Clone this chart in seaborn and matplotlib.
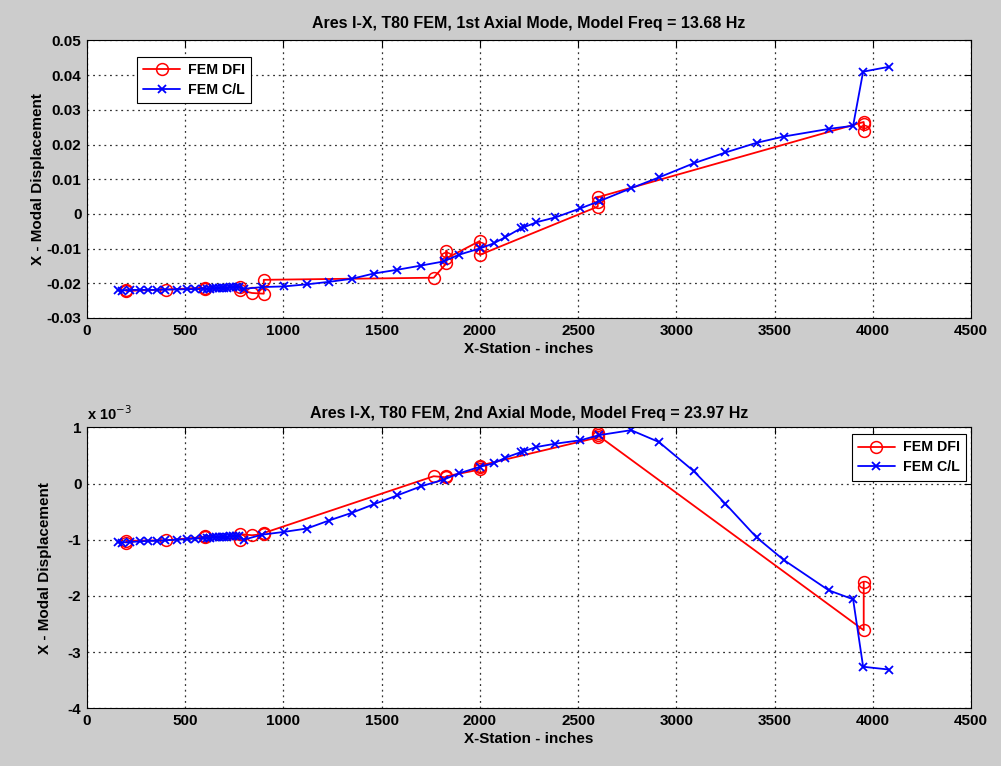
import numpy as np
import pandas as pd
import matplotlib
matplotlib.use("Agg")
import matplotlib.pyplot as plt
from matplotlib.ticker import FuncFormatter, MultipleLocator
import seaborn as sns

# ---------------- data ----------------
titles = ["Ares I-X, T80 FEM, 1st Axial Mode, Model Freq = 13.68 Hz",
          "Ares I-X, T80 FEM, 2nd Axial Mode, Model Freq = 23.97 Hz"]
series_names = ["FEM DFI", "FEM C/L"]
x_label = "X-Station - inches"
y_label = "X - Modal Displacement"

# FEM DFI stations (mode 1)
dfi_x = [200, 200, 400, 600, 600, 780, 780, 840, 900, 900, 1765, 1830, 1830, 1830,
         2000, 2000, 2000, 2600, 2600, 2600, 3954, 3954, 3954]
dfi_m1 = [-0.0218, -0.0222, -0.0218, -0.0213, -0.0217, -0.0210, -0.0220, -0.0228,
          -0.0230, -0.0190, -0.0184, -0.0142, -0.0106, -0.0128,
          -0.0078, -0.0098, -0.0118, 0.0021, 0.0035, 0.0048, 0.0265, 0.0240, 0.0258]
# FEM DFI stations (mode 2), values in units of 1e-3
dfi_x2 = [200, 200, 400, 600, 600, 780, 780, 840, 900, 900, 1765, 1830, 1830,
          2000, 2000, 2000, 2600, 2600, 2600, 3954, 3954, 3954]
dfi_m2_e3 = [-1.05, -1.02, -1.01, -0.95, -0.93, -1.00, -0.90, -0.92, -0.90, -0.88,
             0.13, 0.11, 0.13, 0.25, 0.30, 0.32, 0.82, 0.90, 0.86, -2.61, -1.84, -1.76]

# FEM C/L stations
cl_x = [160, 177, 219, 270, 312, 355, 397, 457, 508, 550, 593,
        610, 625, 640, 655, 670, 685, 700, 715, 730, 745, 760, 775,
        797, 891, 1004, 1120, 1230, 1349, 1459, 1580, 1700, 1816, 1892,
        2003, 2070, 2130, 2210, 2227, 2288, 2385, 2512, 2605, 2770, 2911,
        3089, 3250, 3409, 3547, 3776, 3900, 3951, 4082]
cl_m1 = [-0.0220, -0.0221, -0.0219, -0.0219, -0.0219, -0.0219, -0.0218, -0.0218,
         -0.0217, -0.0217, -0.0216,
         -0.0216, -0.0216, -0.0215, -0.0215, -0.0214, -0.0214, -0.0213, -0.0213,
         -0.0212, -0.0212, -0.0211, -0.0211,
         -0.0216, -0.0211, -0.0209, -0.0203, -0.0196, -0.0187, -0.0172, -0.0161,
         -0.0149, -0.0137, -0.0118,
         -0.0099, -0.0085, -0.0067, -0.0041, -0.0038, -0.0024, -0.0010, 0.0016,
         0.0036, 0.0074, 0.0105,
         0.0146, 0.0177, 0.0205, 0.0223, 0.0245, 0.0254, 0.0410, 0.0424]
cl_m2_e3 = [-1.04, -1.05, -1.04, -1.03, -1.02, -1.02, -1.01, -1.00, -0.99, -0.98, -0.97,
            -0.97, -0.97, -0.96, -0.96, -0.96, -0.95, -0.95, -0.95, -0.94, -0.94, -0.93, -0.93,
            -1.00, -0.91, -0.86, -0.80, -0.66, -0.52, -0.37, -0.21, -0.05, 0.07, 0.18,
            0.30, 0.36, 0.46, 0.56, 0.58, 0.65, 0.71, 0.77, 0.86, 0.95, 0.74,
            0.22, -0.36, -0.96, -1.36, -1.90, -2.06, -3.26, -3.31]

x_ticks = [0, 500, 1000, 1500, 2000, 2500, 3000, 3500, 4000, 4500]

# ---------------- style ----------------
sns.set_style("white")
plt.rcParams['font.family'] = ['Liberation Sans', 'DejaVu Sans']
plt.rcParams['axes.unicode_minus'] = False
plt.rcParams['text.color'] = 'black'
plt.rcParams['axes.labelcolor'] = 'black'
plt.rcParams['xtick.color'] = 'black'
plt.rcParams['ytick.color'] = 'black'

fig = plt.figure(figsize=(10.01, 7.66), dpi=100, facecolor="#cccccc")
ax1 = fig.add_axes([0.0869, 0.5849, 0.8831, 0.3623])
ax2 = fig.add_axes([0.0869, 0.0753, 0.8831, 0.3668])

red = "#ff0000"
blue = "#0000ff"

def draw(ax, xd, yd, xc, yc):
    d1 = pd.DataFrame({"x": xd, "y": yd})
    d2 = pd.DataFrame({"x": xc, "y": yc})
    sns.lineplot(data=d1, x="x", y="y", ax=ax, sort=False, estimator=None,
                 color=red, lw=1.3, marker="o", markersize=8.5,
                 markerfacecolor="none", markeredgecolor=red, markeredgewidth=1.1,
                 label=series_names[0])
    sns.lineplot(data=d2, x="x", y="y", ax=ax, sort=False, estimator=None,
                 color=blue, lw=1.3, marker="x", markersize=6,
                 markeredgecolor=blue, markeredgewidth=1.3,
                 label=series_names[1])

draw(ax1, dfi_x, dfi_m1, cl_x, cl_m1)
draw(ax2, dfi_x2, np.array(dfi_m2_e3) * 1e-3, cl_x, np.array(cl_m2_e3) * 1e-3)

for i, ax in enumerate([ax1, ax2]):
    ax.set_facecolor("white")
    ax.set_xlim(0, 4500)
    ax.set_xticks(x_ticks)
    ax.set_title(titles[i], fontsize=11.5, fontweight="bold", pad=9 if i == 0 else 7,
                 color="black")
    ax.set_xlabel(x_label, fontsize=11, fontweight="bold", labelpad=3)
    ax.set_ylabel(y_label, fontsize=11, fontweight="bold")
    ax.grid(True, color="#333333", linestyle=(0, (1.5, 3)), linewidth=0.9)
    ax.tick_params(direction="in", length=5, width=0.8, top=True, right=True,
                   labelsize=11, pad=4, colors="black")
    for s in ax.spines.values():
        s.set_color("black")
        s.set_linewidth(0.8)

ax1.yaxis.set_label_coords(-0.0475, 0.5)
ax2.yaxis.set_label_coords(-0.0396, 0.5)

ax1.set_ylim(-0.03, 0.05)
ax1.yaxis.set_major_locator(MultipleLocator(0.01))
ax1.yaxis.set_major_formatter(FuncFormatter(lambda v, p: "%g" % round(v, 4)))

ax2.set_ylim(-4e-3, 1e-3)
ax2.yaxis.set_major_locator(MultipleLocator(1e-3))
ax2.yaxis.set_major_formatter(FuncFormatter(lambda v, p: "%g" % round(v * 1e3, 3)))
ax2.text(0.0, 1.015, "x 10$^{-3}$", transform=ax2.transAxes, fontsize=10.5,
         fontweight="bold", ha="left", va="bottom")

fig.canvas.draw()
for ax in [ax1, ax2]:
    for lab in ax.get_xticklabels() + ax.get_yticklabels():
        lab.set_fontweight("bold")

leg_kw = dict(frameon=True, fancybox=False, edgecolor="black", framealpha=1,
              prop={"weight": "bold", "size": 10.2}, handlelength=2.6,
              borderpad=0.45, labelspacing=0.4, handletextpad=0.55,
              borderaxespad=0)
leg1 = ax1.legend(loc="upper left", bbox_to_anchor=(0.0566, 0.9405), **leg_kw)
leg2 = ax2.legend(loc="upper right", bbox_to_anchor=(0.9943, 0.976), **leg_kw)
for leg in (leg1, leg2):
    leg.get_frame().set_linewidth(0.8)

fig.savefig("out.png", dpi=100, facecolor=fig.get_facecolor())
